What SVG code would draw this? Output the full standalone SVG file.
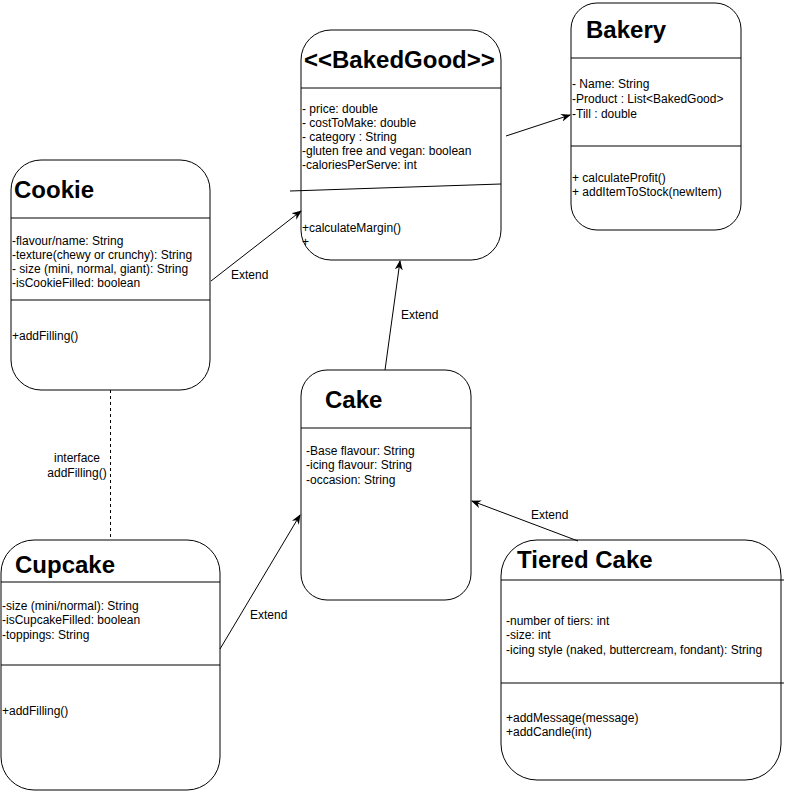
<svg xmlns="http://www.w3.org/2000/svg" width="786" height="791" viewBox="0 0 786 791">
<defs>
<style>
.box{fill:#fff;stroke:#000;stroke-width:1}
.ln{stroke:#000;stroke-width:1;fill:none}
.title{font-family:"Liberation Sans",Arial,sans-serif;font-weight:bold;font-size:24px;fill:#000}
.t{font-family:"Liberation Sans",Arial,sans-serif;font-size:12px;fill:#000}
.lbl{font-family:"Liberation Sans",Arial,sans-serif;font-size:12px;fill:#000}
</style>
<marker id="arr" viewBox="0 0 10 10" refX="9" refY="5" markerWidth="10" markerHeight="10" markerUnits="userSpaceOnUse" orient="auto">
<path d="M0,1 L10,5 L0,9 L3,5 Z" fill="#000"/>
</marker>
</defs>
<rect width="786" height="791" fill="#fff"/>

<g id="BakedGood">
<rect class="box" x="301" y="30" width="200" height="230" rx="30" ry="30"/>
<line class="ln" x1="301" y1="88" x2="501" y2="88"/>
<text class="title" x="304" y="68">&lt;&lt;BakedGood&gt;&gt;</text>
<text class="t" x="302" y="113">- price: double</text>
<text class="t" x="302" y="127">- costToMake: double</text>
<text class="t" x="302" y="141">- category : String</text>
<text class="t" x="302" y="155">-gluten free and vegan: boolean</text>
<text class="t" x="302" y="169">-caloriesPerServe: int</text>
<line class="ln" x1="290" y1="191" x2="501" y2="184"/>
<text class="t" x="302" y="232">+calculateMargin()</text>
<text class="t" x="302" y="246">+</text>
</g>

<g id="Bakery">
<rect class="box" x="571" y="3" width="170" height="227" rx="26" ry="26"/>
<line class="ln" x1="571" y1="58" x2="741" y2="58"/>
<text class="title" x="586" y="38">Bakery</text>
<text class="t" x="572" y="88">- Name: String</text>
<text class="t" x="572" y="103">-Product : List&lt;BakedGood&gt;</text>
<text class="t" x="572" y="118">-Till : double</text>
<line class="ln" x1="571" y1="146" x2="741" y2="146"/>
<text class="t" x="572" y="182">+ calculateProfit()</text>
<text class="t" x="572" y="196">+ addItemToStock(newItem)</text>
</g>

<g id="Cookie">
<rect class="box" x="11" y="160" width="199" height="230" rx="30" ry="30"/>
<line class="ln" x1="11" y1="218" x2="210" y2="218"/>
<text class="title" x="14" y="198">Cookie</text>
<text class="t" x="12" y="245">-flavour/name: String</text>
<text class="t" x="12" y="259">-texture(chewy or crunchy): String</text>
<text class="t" x="12" y="273">- size (mini, normal, giant): String</text>
<text class="t" x="12" y="287">-isCookieFilled: boolean</text>
<line class="ln" x1="11" y1="300" x2="210" y2="300"/>
<text class="t" x="12" y="340">+addFilling()</text>
</g>

<g id="Cake">
<rect class="box" x="301" y="370" width="170" height="230" rx="26" ry="26"/>
<line class="ln" x1="301" y1="428" x2="471" y2="428"/>
<text class="title" x="325" y="408">Cake</text>
<text class="t" x="306" y="455">-Base flavour: String</text>
<text class="t" x="306" y="469">-icing flavour: String</text>
<text class="t" x="306" y="484">-occasion: String</text>
</g>

<g id="Cupcake">
<rect class="box" x="1" y="540" width="219" height="250" rx="33" ry="33"/>
<line class="ln" x1="1" y1="582" x2="220" y2="582"/>
<text class="title" x="15" y="573">Cupcake</text>
<text class="t" x="2" y="610">-size (mini/normal): String</text>
<text class="t" x="2" y="624">-isCupcakeFilled: boolean</text>
<text class="t" x="2" y="639">-toppings: String</text>
<line class="ln" x1="1" y1="665" x2="220" y2="665"/>
<text class="t" x="2" y="715">+addFilling()</text>
</g>

<g id="TieredCake">
<rect class="box" x="501" y="540" width="280" height="240" rx="36" ry="36"/>
<line class="ln" x1="501" y1="580" x2="784" y2="580"/>
<text class="title" x="517" y="568">Tiered Cake</text>
<text class="t" x="506" y="625">-number of tiers: int</text>
<text class="t" x="506" y="639">-size: int</text>
<text class="t" x="506" y="654">-icing style (naked, buttercream, fondant): String</text>
<line class="ln" x1="501" y1="683" x2="784" y2="683"/>
<text class="t" x="506" y="722">+addMessage(message)</text>
<text class="t" x="506" y="736">+addCandle(int)</text>
</g>

<g id="connectors">
<line class="ln" x1="506" y1="136" x2="570" y2="115" marker-end="url(#arr)"/>
<line class="ln" x1="211" y1="281" x2="301" y2="211" marker-end="url(#arr)"/>
<text class="lbl" x="231" y="279">Extend</text>
<line class="ln" x1="385" y1="370" x2="400" y2="261" marker-end="url(#arr)"/>
<text class="lbl" x="401" y="319">Extend</text>
<line class="ln" x1="220" y1="649" x2="300" y2="515" marker-end="url(#arr)"/>
<text class="lbl" x="250" y="619">Extend</text>
<line class="ln" x1="578" y1="541" x2="472" y2="501" marker-end="url(#arr)"/>
<text class="lbl" x="531" y="519">Extend</text>
<line class="ln" x1="110.5" y1="390" x2="110.5" y2="540" stroke-dasharray="3,3"/>
<text class="lbl" x="77" y="462" text-anchor="middle">interface</text>
<text class="lbl" x="77" y="477" text-anchor="middle">addFilling()</text>
</g>
</svg>
